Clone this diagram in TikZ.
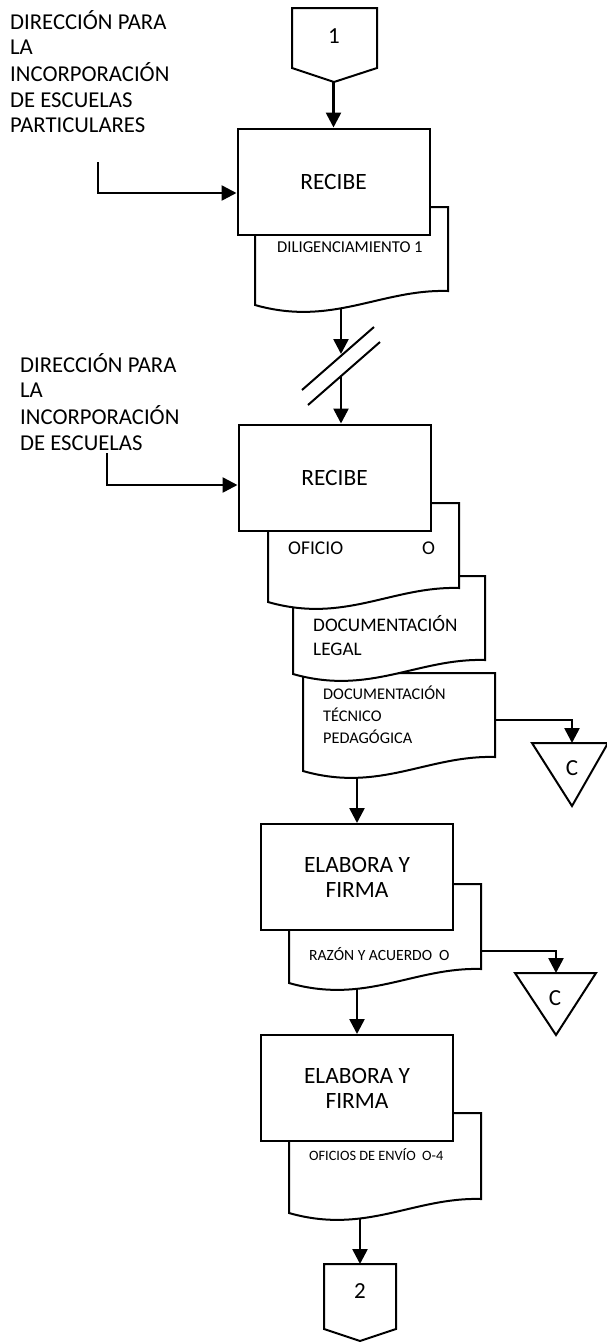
\documentclass[tikz,border=0pt]{standalone}
\usepackage{fontspec}
\setmainfont{Carlito}
\usetikzlibrary{arrows.meta,backgrounds}

% font size / leading in pt
\newcommand\fsz[2]{\fontsize{#1pt}{#2pt}\selectfont}
% left-aligned stack of lines whose baseline is the first line
\newcommand\stack[1]{\begin{tabular}[t]{@{}l@{}}#1\end{tabular}}
% document symbol: name, left x, right x, top y, bottom-left y
\newcommand\docshape[5]{%
  \path[outline] (#2,#4) -- (#3,#4) -- (#3,{#5-14})
    .. controls ({#3-0.35*(#3-#2)},{#5-16}) and ({#2+0.4*(#3-#2)},{#5+22}) .. (#2,#5) -- cycle;
  \coordinate (#1) at ({(#2+#3)/2},{(#4+#5)/2});}

\tikzset{
  outline/.style={draw=black, line width=2pt, fill=white, line join=miter},
  procbox/.style={outline, rectangle, minimum width=192pt, minimum height=106pt,
    inner sep=0pt, align=center, font=\fsz{23.4}{25}},
  conn/.style={line width=2.6pt, -{Triangle[length=15pt,width=15pt]}},
  breakline/.style={line width=2pt},
  lbl/.style={inner sep=0pt, anchor=base west, font=\fsz{22.7}{25.6}},
  doctext/.style={inner sep=0pt, anchor=base west},
  symtext/.style={inner sep=0pt, font=\fsz{23}{25}},
}

\begin{document}
\begin{tikzpicture}[x=1pt, y=-1pt]
\useasboundingbox (0,0) rectangle (607,1342);

% ---- off-page connector 1
\path[outline] (292,8) -- (377,8) -- (377,68) -- (334,82) -- (292,68) -- cycle;
\node[symtext] (k1) at (334,36) {1};

% ---- side labels
\node[lbl] (l1) at (10,29.3) {\stack{DIRECCIÓN PARA\\LA\\INCORPORACIÓN\\DE ESCUELAS\\PARTICULARES}};
\node[lbl] (l2) at (20,372.3) {\stack{DIRECCIÓN PARA\\LA\\INCORPORACIÓN\\DE ESCUELAS}};
\coordinate (a1) at (98,162);
\coordinate (a2) at (107,453);

% ---- first reception
\docshape{d1}{255}{448}{207}{305}
\node[doctext, font=\fsz{16.6}{20}] (t1) at (277,252.4) {DILIGENCIAMIENTO 1};
\node[procbox] (b1) at (333.5,181.5) {RECIBE};

% ---- break on the flow line
\coordinate (brk1) at (341,354);
\coordinate (brk2) at (341,377);
\draw[breakline] (302,390) -- (374,327);
\draw[breakline] (308,405) -- (380,342);

% ---- second reception with stacked documents
\docshape{d4}{303}{495}{673}{771}
\node[doctext, font=\fsz{16.3}{22}] (t4) at (323,699.2) {\stack{DOCUMENTACIÓN\\TÉCNICO\\PEDAGÓGICA}};
\docshape{d3}{293}{485}{576}{674}
\node[doctext, font=\fsz{19.2}{24}] (t3) at (313,631.2) {\stack{DOCUMENTACIÓN\\LEGAL}};
\docshape{d2}{268}{459}{503}{602}
\node[doctext, font=\fsz{19.5}{22}] (t2) at (288,554.3) {OFICIO\hspace{79pt}O};
\node[procbox] (b2) at (334.5,477.5) {RECIBE};

% ---- archive triangle 1
\path[outline] (532,743) -- (608,743) -- (572,806) -- cycle;
\node[symtext] (c1) at (572,768) {C};
\coordinate (c1top) at (572,743);
\coordinate (d4r) at (495,720);

% ---- first elaboration
\docshape{d5}{289}{481}{884}{983}
\node[doctext, font=\fsz{15.6}{20}] (t5) at (309,960) {RAZÓN Y ACUERDO\ \ O};
\node[procbox] (b3) at (357,877) {ELABORA Y\\FIRMA};

% ---- archive triangle 2
\path[outline] (515,973) -- (596,973) -- (556,1035) -- cycle;
\node[symtext] (c2) at (555,998) {C};
\coordinate (c2top) at (556,973);
\coordinate (d5r) at (481,951);

% ---- second elaboration
\docshape{d6}{289}{481}{1113}{1213}
\node[doctext, font=\fsz{14.3}{18}] (t6) at (309,1160.6) {OFICIOS DE ENVÍO\ \ O-4};
\node[procbox] (b4) at (357,1088) {ELABORA Y\\FIRMA};

% ---- off-page connector 2
\path[outline] (324,1264) -- (396,1264) -- (396,1329) -- (360,1341) -- (324,1329) -- cycle;
\node[symtext] (k2) at (360,1291) {2};
\coordinate (k2top) at (360,1264);

% ---- flow lines
\begin{scope}[on background layer]
  \draw[conn] (b1.north |- k1) -- (b1.north);
  \draw[conn] (a1) |- ([yshift=-11.5pt]b1.west);
  \draw[conn] (brk1 |- d1) -- (brk1);
  \draw[conn] (brk2) -- (brk2 |- b2.north);
  \draw[conn] (a2) |- ([yshift=-7.5pt]b2.west);
  \draw[conn] (d4r) -| (c1top);
  \draw[conn] (b3.north |- d4) -- (b3.north);
  \draw[conn] (d5r) -| (c2top);
  \draw[conn] (b4.north |- d5) -- (b4.north);
  \draw[conn] (k2top |- d6) -- (k2top);
\end{scope}
\end{tikzpicture}
\end{document}
